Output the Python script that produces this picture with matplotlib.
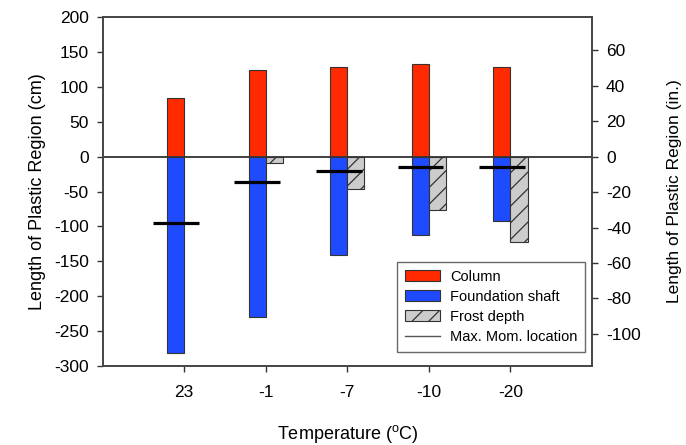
import numpy as np
import matplotlib
matplotlib.use("Agg")
import matplotlib.pyplot as plt
from matplotlib.patches import Patch
from matplotlib.lines import Line2D

plt.rcParams['font.family'] = ['Liberation Sans', 'DejaVu Sans']
plt.rcParams['mathtext.fontset'] = 'custom'
plt.rcParams['mathtext.rm'] = 'Liberation Sans'
plt.rcParams['axes.unicode_minus'] = False
plt.rcParams['hatch.linewidth'] = 0.9
plt.rcParams['hatch.color'] = '#333333'

categories = ['23', '-1', '-7', '-10', '-20']
column = [84, 124, 128, 133, 128]
shaft = [-282, -230, -141, -112, -92]
frost = [0, -9, -47, -76, -123]
maxmom = [-95, -37, -21, -15, -15]

left_ticks = list(range(-300, 201, 50))
right_ticks = list(range(-100, 61, 20))

fig = plt.figure(figsize=(6.86, 4.45), dpi=100)
ax = fig.add_axes([0.1497, 0.1775, 0.7133, 0.7843])

x = np.arange(1, len(categories) + 1)
w = 0.21
red = '#ff2a00'
blue = '#1f4bff'
edge = '#333333'

ax.bar(x - w, column, width=w, align='edge', color=red, edgecolor=edge, linewidth=0.8, zorder=2)
ax.bar(x - w, shaft, width=w, align='edge', color=blue, edgecolor=edge, linewidth=0.8, zorder=2)
fx = [xi for xi, f in zip(x, frost) if f != 0]
fv = [f for f in frost if f != 0]
ax.bar(fx, fv, width=w, align='edge', color='#cccccc', edgecolor=edge, linewidth=0.8,
       hatch='//', zorder=2)
ax.hlines(maxmom, x - w / 2 - 0.28, x - w / 2 + 0.28, colors='black', linewidth=2.3, zorder=4)
ax.axhline(0, color='#333333', linewidth=1.3, zorder=3)

ax.set_xlim(0, 6)
ax.set_ylim(-300, 200)
ax.set_xticks(x)
ax.set_xticklabels(categories)
ax.set_yticks(left_ticks)
ax.tick_params(axis='both', direction='out', length=4, width=1, color='#333333',
               labelsize=12.5, pad=6)
ax.tick_params(axis='x', pad=10)
for s in ax.spines.values():
    s.set_color('#444444')
    s.set_linewidth(1.2)

ax.set_xlabel('Temperature ($^{\\mathrm{o}}$C)', fontsize=13, labelpad=16)
ax.set_ylabel('Length of Plastic Region (cm)', fontsize=13, labelpad=6)

ax2 = ax.twinx()
ax2.set_ylim(-300 / 2.54, 200 / 2.54)
ax2.set_yticks(right_ticks)
ax2.tick_params(axis='y', direction='out', length=4, width=1, color='#333333',
                labelsize=12.5, pad=6)
for s in ax2.spines.values():
    s.set_color('#444444')
    s.set_linewidth(1.2)
ax2.set_ylabel('Length of Plastic Region (in.)', fontsize=12.5, labelpad=19)

handles = [
    Patch(facecolor=red, edgecolor=edge, linewidth=0.8, label='Column'),
    Patch(facecolor=blue, edgecolor=edge, linewidth=0.8, label='Foundation shaft'),
    Patch(facecolor='#cccccc', edgecolor=edge, linewidth=0.8, hatch='//', label='Frost depth'),
    Line2D([0], [0], color='#555555', linewidth=1.0, label='Max. Mom. location'),
]
leg = ax.legend(handles=handles, loc='lower right', bbox_to_anchor=(0.986, 0.04),
                borderaxespad=0, fontsize=10.5, frameon=True, fancybox=False,
                handlelength=2.4, handleheight=0.8, labelspacing=0.42,
                handletextpad=0.7, borderpad=0.55)
leg.get_frame().set_edgecolor('#444444')
leg.get_frame().set_linewidth(1.0)
leg.set_zorder(10)

fig.savefig('out.png', dpi=100)
